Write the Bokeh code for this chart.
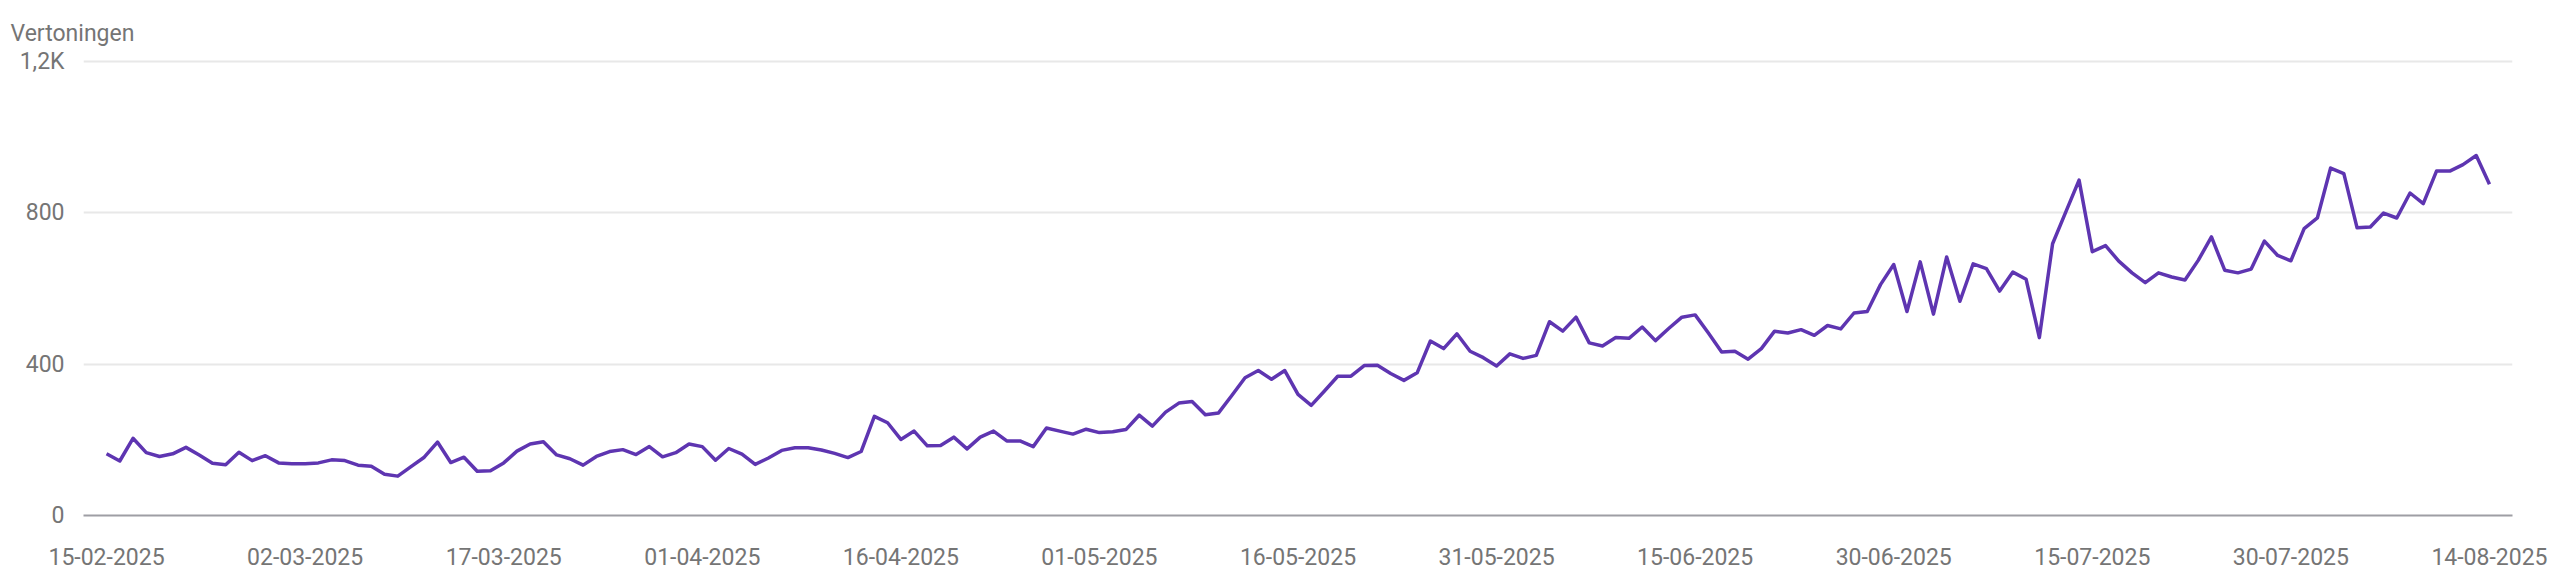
from bokeh.plotting import figure
from bokeh.models import Range1d, FixedTicker
from bokeh.embed import file_html
from bokeh.resources import INLINE

# Daily impressions ("Vertoningen"), 15-02-2025 .. 14-08-2025 (181 days)
days = list(range(181))
impressions = [
    163, 144, 204, 166, 156, 163, 180, 160, 138, 134,
    167, 145, 158, 139, 137, 137, 139, 147, 145, 133,
    130, 109, 104, 129, 154, 194, 140, 154, 117, 118,
    139, 170, 189, 195, 160, 150, 133, 156, 169, 174,
    161, 182, 155, 166, 189, 182, 146, 177, 162, 135,
    152, 172, 179, 179, 173, 164, 153, 169, 262, 245,
    201, 223, 184, 185, 207, 176, 207, 223, 197, 197,
    182, 231, 223, 215, 228, 219, 221, 227, 265, 236,
    273, 297, 301, 266, 271, 317, 364, 383, 360, 383,
    320, 291, 329, 368, 368, 396, 397, 375, 357, 377,
    461, 441, 480, 434, 417, 395, 427, 415, 423, 512,
    487, 524, 456, 448, 470, 468, 498, 462, 494, 524,
    530, 482, 432, 434, 413, 441, 487, 482, 491, 476,
    502, 493, 535, 539, 610, 663, 539, 670, 532, 683,
    566, 665, 652, 593, 643, 624, 470, 718, 802, 886,
    697, 713, 672, 641, 615, 641, 630, 622, 674, 736,
    648, 641, 651, 725, 687, 673, 758, 786, 918, 903,
    760, 762, 799, 786, 852, 824, 910, 910, 927, 951,
    875,
]

x_tick_days = [0, 15, 30, 45, 60, 75, 90, 105, 120, 135, 150, 165, 180]
x_tick_labels = [
    "15-02-2025", "02-03-2025", "17-03-2025", "01-04-2025", "16-04-2025",
    "01-05-2025", "16-05-2025", "31-05-2025", "15-06-2025", "30-06-2025",
    "15-07-2025", "30-07-2025", "14-08-2025",
]
y_tick_values = [0, 400, 800, 1200]
y_tick_labels = ["0", "400", "800", "1,2K"]

FONT = "Roboto"
GREY = "#757575"

p = figure(
    width=2560, height=581,
    output_backend="svg", toolbar_location=None,
    x_range=Range1d(-1.74, 181.74), y_range=Range1d(0, 1210),
    min_border_left=83, min_border_right=48,
    min_border_top=57, min_border_bottom=66,
    background_fill_color="white", border_fill_color="white",
)
p.outline_line_color = None

p.title.text = "Vertoningen"
p.title.align = "left"
p.title.offset = -73
p.title.text_font = FONT
p.title.text_font_size = "23px"
p.title.text_font_style = "normal"
p.title.text_color = GREY
p.title.standoff = 22

p.line(days, impressions, line_color="#5e35b1", line_width=3.5, line_join="round")

# x axis
p.xaxis.ticker = FixedTicker(ticks=x_tick_days)
p.xaxis.major_label_overrides = {d: s for d, s in zip(x_tick_days, x_tick_labels)}
p.xaxis.major_label_text_font = FONT
p.xaxis.major_label_text_font_size = "23px"
p.xaxis.major_label_text_color = GREY
p.xaxis.major_label_standoff = 26
p.xaxis.major_tick_line_color = None
p.xaxis.minor_tick_line_color = None
p.xaxis.axis_line_color = "#9e9ea4"
p.xaxis.axis_line_width = 2
p.xgrid.visible = False

# y axis
p.yaxis.ticker = FixedTicker(ticks=y_tick_values)
p.yaxis.major_label_overrides = {v: s for v, s in zip(y_tick_values, y_tick_labels)}
p.yaxis.major_label_text_font = FONT
p.yaxis.major_label_text_font_size = "23px"
p.yaxis.major_label_text_color = GREY
p.yaxis.major_label_standoff = 13
p.yaxis.major_tick_line_color = None
p.yaxis.minor_tick_line_color = None
p.yaxis.axis_line_color = None
p.ygrid.grid_line_color = "#e8e8e8"
p.ygrid.grid_line_width = 2

open("out.html", "w").write(file_html(p, INLINE))
